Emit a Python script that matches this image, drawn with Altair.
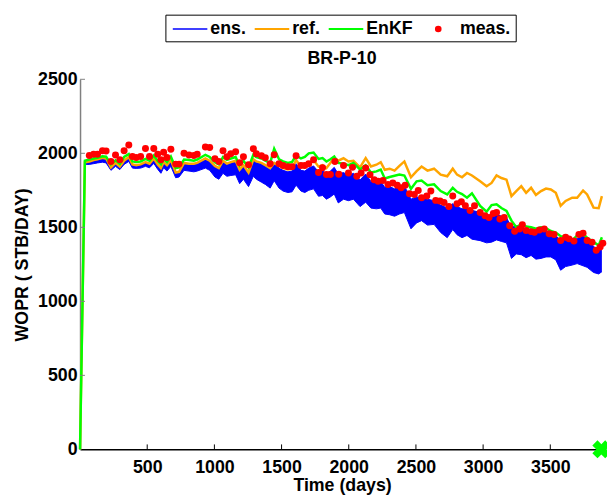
import altair as alt
import pandas as pd

# ---------------- data ----------------
ref_day = [0, 36, 69, 101, 130, 167, 194, 230, 264, 296, 328, 363, 390, 418, 451, 487, 517, 549, 578, 602,
           622, 647, 676, 712, 737, 774, 811, 847, 872, 933, 965, 1004, 1033, 1064, 1093, 1122, 1158, 1188,
           1216, 1254, 1290, 1312, 1350, 1379, 1415, 1445, 1481, 1511, 1547, 1578, 1608, 1644, 1673, 1702,
           1738, 1775, 1805, 1834, 1863, 1892, 1922, 1961, 1998, 2035, 2084, 2126, 2165, 2206, 2238, 2268,
           2304, 2341, 2377, 2414, 2463, 2505, 2542, 2586, 2635, 2684, 2733, 2774, 2806, 2843, 2880, 2917,
           2978, 3026, 3063, 3100, 3136, 3174, 3211, 3247, 3284, 3320, 3357, 3393, 3431, 3468, 3504, 3541,
           3577, 3614, 3663, 3700, 3744, 3774, 3822, 3860, 3884]

ref_val = [0, 1940, 1945, 1955, 1960, 1970, 1965, 1905, 1935, 1910, 1950, 1975, 1925, 1920, 1925, 1940, 1930,
           1965, 1925, 1900, 1940, 1920, 1955, 1870, 1875, 1935, 1930, 1930, 1935, 1965, 1950, 1915, 1900,
           1950, 1930, 1940, 1950, 1890, 1920, 1870, 1960, 1945, 1935, 1920, 1900, 1935, 1915, 1900, 1890,
           1895, 1955, 1910, 1905, 1930, 1955, 1910, 1920, 1900, 1935, 1970, 1950, 1967, 1945, 1949, 1905,
           1967, 1911, 1923, 1940, 1889, 1896, 1883, 1915, 1945, 1838, 1880, 1911, 1883, 1896, 1856, 1845,
           1896, 1856, 1838, 1867, 1850, 1811, 1778, 1800, 1851, 1833, 1822, 1711, 1745, 1778, 1733, 1767,
           1718, 1745, 1762, 1756, 1733, 1645, 1678, 1700, 1700, 1749, 1722, 1633, 1629, 1711]

enkf_val = [0, 1950, 1958, 1965, 1970, 1980, 1978, 1925, 1952, 1928, 1975, 1995, 1945, 1942, 1945, 1962, 1950,
            1985, 1948, 1925, 1962, 1940, 1978, 1900, 1905, 1958, 1955, 1950, 1958, 1990, 1975, 1940, 1925,
            1975, 1955, 1965, 1975, 1918, 1950, 1905, 1990, 1975, 1965, 1950, 1935, 2030, 1960, 1945, 1935,
            1942, 1985, 1965, 1975, 2000, 2005, 1962, 1968, 1945, 1960, 1978, 1935, 1930, 1920, 1935, 1890,
            1920, 1870, 1878, 1890, 1830, 1840, 1848, 1856, 1850, 1760, 1811, 1816, 1785, 1790, 1745, 1722,
            1767, 1740, 1725, 1700, 1730, 1645, 1605, 1650, 1656, 1630, 1611, 1545, 1500, 1522, 1505, 1500,
            1490, 1500, 1495, 1475, 1465, 1440, 1433, 1411, 1445, 1456, 1430, 1400, 1378, 1433]

ens_lo = [0, 1925, 1925, 1930, 1935, 1940, 1935, 1885, 1912, 1890, 1925, 1945, 1900, 1898, 1900, 1912, 1902,
          1932, 1892, 1865, 1902, 1880, 1912, 1835, 1840, 1885, 1880, 1875, 1880, 1900, 1885, 1840, 1825,
          1865, 1845, 1850, 1855, 1795, 1825, 1775, 1845, 1825, 1805, 1790, 1765, 1815, 1765, 1745, 1735,
          1740, 1785, 1745, 1735, 1750, 1760, 1710, 1715, 1690, 1705, 1725, 1665, 1690, 1680, 1690, 1640,
          1670, 1630, 1625, 1630, 1590, 1585, 1575, 1590, 1600, 1490, 1530, 1545, 1515, 1520, 1465, 1430,
          1485, 1450, 1430, 1445, 1420, 1410, 1395, 1400, 1415, 1405, 1395, 1290, 1320, 1315, 1295, 1310,
          1285, 1290, 1300, 1300, 1280, 1210, 1235, 1245, 1255, 1240, 1230, 1195, 1185, 1200]

ens_hi = [0, 1945, 1945, 1950, 1955, 1962, 1958, 1902, 1932, 1910, 1947, 1968, 1922, 1918, 1922, 1938, 1928,
          1962, 1922, 1897, 1937, 1917, 1952, 1867, 1872, 1930, 1925, 1925, 1930, 1960, 1945, 1910, 1895,
          1945, 1925, 1935, 1945, 1880, 1915, 1865, 1955, 1940, 1930, 1915, 1890, 1940, 1900, 1885, 1875,
          1880, 1930, 1885, 1880, 1900, 1915, 1875, 1885, 1860, 1880, 1905, 1860, 1870, 1850, 1865, 1820,
          1860, 1810, 1800, 1810, 1770, 1775, 1760, 1775, 1780, 1690, 1705, 1700, 1690, 1680, 1650, 1630,
          1660, 1640, 1625, 1630, 1615, 1600, 1570, 1585, 1590, 1575, 1565, 1500, 1510, 1505, 1480, 1490,
          1460, 1470, 1475, 1460, 1445, 1405, 1420, 1410, 1425, 1440, 1425, 1370, 1350, 1390]

meas_day = [69, 101, 130, 167, 194, 230, 264, 296, 328, 363, 390, 418, 451, 487, 517, 549, 578, 602, 622, 647,
            676, 712, 737, 774, 811, 847, 872, 933, 965, 1004, 1033, 1064, 1093, 1122, 1158, 1188, 1216, 1254,
            1290, 1312, 1350, 1379, 1415, 1445, 1481, 1511, 1547, 1578, 1608, 1644, 1673, 1702, 1738, 1775,
            1805, 1834, 1863, 1897, 1926, 1961, 1998, 2028, 2060, 2092, 2126, 2158, 2189, 2218, 2255, 2292,
            2328, 2361, 2390, 2420, 2452, 2488, 2517, 2542, 2581, 2611, 2647, 2679, 2709, 2745, 2774, 2806,
            2838, 2868, 2903, 2936, 2978, 3014, 3044, 3076, 3100, 3125, 3157, 3198, 3235, 3271, 3292, 3320,
            3357, 3382, 3419, 3455, 3492, 3528, 3577, 3614, 3639, 3676, 3713, 3744, 3774, 3811, 3842, 3871,
            3891]

meas_val = [1985, 1993, 1993, 2018, 2016, 1945, 1989, 1956, 2018, 2056, 1978, 1971, 1978, 2033, 1978, 2033,
            1993, 1956, 2007, 1971, 2027, 1927, 1927, 2000, 1989, 1985, 1993, 2043, 2040, 1963, 1945, 2017,
            1977, 1997, 2011, 1937, 1977, 1922, 2031, 1997, 1983, 1970, 1930, 1990, 1930, 1917, 1910, 1910,
            1983, 1917, 1917, 1930, 1957, 1870, 1903, 1857, 1857, 1945, 1858, 1918, 1867, 1905, 1845, 1867,
            1900, 1856, 1822, 1811, 1816, 1789, 1800, 1785, 1767, 1785, 1727, 1722, 1749, 1700, 1711, 1745,
            1682, 1678, 1667, 1640, 1711, 1660, 1673, 1645, 1613, 1645, 1600, 1578, 1567, 1593, 1600, 1556,
            1567, 1511, 1473, 1489, 1518, 1478, 1471, 1467, 1482, 1489, 1456, 1451, 1411, 1433, 1422, 1407,
            1451, 1460, 1411, 1400, 1345, 1367, 1393]

end_day = [3880]
end_val = [0]

x_ticks = [500, 1000, 1500, 2000, 2500, 3000, 3500]
y_ticks = [0, 500, 1000, 1500, 2000, 2500]

series_names = ["ens.", "ref.", "EnKF", "meas."]
series_colors = ["#0000ff", "#ffa500", "#00ff00", "#ff0000"]
title_text = "BR-P-10"

FONT = "Liberation Sans"
W, H = 531, 375

# ---------------- tables ----------------
n = len(ref_day)
band_df = pd.DataFrame({"day": ref_day, "lo": ens_lo, "hi": ens_hi})
ens_df = pd.DataFrame({"day": ref_day + ref_day, "value": ens_lo + ens_hi,
                       "edge": ["lo"] * n + ["hi"] * n, "series": ["ens."] * (2 * n)})
ref_df = pd.DataFrame({"day": ref_day, "value": ref_val, "series": ["ref."] * n})
enkf_df = pd.DataFrame({"day": ref_day, "value": enkf_val, "series": ["EnKF"] * n})
meas_df = pd.DataFrame({"day": meas_day, "value": meas_val, "series": ["meas."] * len(meas_day)})
end_df = pd.DataFrame({"day": end_day, "value": end_val})
xt_df = pd.DataFrame({"day": x_ticks})
yt_df = pd.DataFrame({"value": y_ticks[1:]})
one = pd.DataFrame({"k": [0]})

# ---------------- scales / axes ----------------
xscale = alt.Scale(domain=[0, 3900], nice=False, zero=False)
yscale = alt.Scale(domain=[0, 2500], nice=False)

xaxis = alt.Axis(values=x_ticks, format="d", ticks=False, grid=False, domainColor="black", domainWidth=1.5,
                 labelFont=FONT, labelFontSize=18, labelFontWeight="bold", labelColor="black",
                 labelPadding=9, labelFlush=False, labelOverlap=False,
                 title="Time (days)", titleFont=FONT, titleFontSize=18, titleFontWeight="bold",
                 titleColor="black", titleBaseline="alphabetic", titleY=42)
yaxis = alt.Axis(values=y_ticks, format="d", ticks=False, grid=False, domainColor="#808080", domainWidth=1.5,
                 labelFont=FONT, labelFontSize=18, labelFontWeight="bold", labelColor="black",
                 labelPadding=3, labelFlush=False, labelOverlap=False,
                 title="WOPR ( STB/DAY)", titleFont=FONT, titleFontSize=18, titleFontWeight="bold",
                 titleColor="black", titleBaseline="alphabetic", titleAngle=270, titleX=-53)

color = alt.Color("series:N", scale=alt.Scale(domain=series_names, range=series_colors), legend=None)

X = alt.X("day:Q", scale=xscale, axis=xaxis)
Y = alt.Y("value:Q", scale=yscale, axis=yaxis)

band = alt.Chart(band_df).mark_area(color=series_colors[0], opacity=1).encode(
    x=X, y=alt.Y("lo:Q", scale=yscale, axis=yaxis), y2="hi:Q")
ens_lines = alt.Chart(ens_df).mark_line(strokeWidth=1).encode(x=X, y=Y, color=color, detail="edge:N")
ref_line = alt.Chart(ref_df).mark_line(strokeWidth=2.5).encode(x=X, y=Y, color=color)
enkf_line = alt.Chart(enkf_df).mark_line(strokeWidth=2.5).encode(x=X, y=Y, color=color)
meas_pts = alt.Chart(meas_df).mark_circle(size=50, opacity=1).encode(x=X, y=Y, color=color)
end_pt = alt.Chart(end_df).mark_point(shape="cross", angle=45, filled=True, size=340,
                                      color=series_colors[2], opacity=1).encode(x=X, y=Y)
xticks = alt.Chart(xt_df).mark_rule(color="black", strokeWidth=1).encode(
    x=X, y=alt.value(H), y2=alt.value(H - 5))
yticks = alt.Chart(yt_df).mark_rule(color="#808080", strokeWidth=1).encode(
    y=Y, x=alt.value(0), x2=alt.value(5))

# ---------------- title and legend (decoration, outside the plot area) ----------------
title = alt.Chart(one).mark_text(text=title_text, font=FONT, fontSize=18, fontWeight="bold",
                                 color="black", align="center", baseline="alphabetic").encode(
    x=alt.value(W / 2), y=alt.value(-15))

LEG_Y = -51
LEG_BASE = -46
leg_box = alt.Chart(one).mark_rect(fill="white", stroke="black", strokeWidth=1).encode(
    x=alt.value(87), x2=alt.value(442), y=alt.value(-65), y2=alt.value(-38))

leg_layers = [leg_box]
line_starts = [94, 177, 252]
line_widths = [1.5, 2, 2]
for i in range(3):
    x0 = line_starts[i]
    leg_layers.append(alt.Chart(one).mark_rule(color=series_colors[i], strokeWidth=line_widths[i]).encode(
        x=alt.value(x0), x2=alt.value(x0 + 35), y=alt.value(LEG_Y)))
    leg_layers.append(alt.Chart(one).mark_text(text=series_names[i], font=FONT, fontSize=18,
                                               fontWeight="bold", color="black", align="left",
                                               baseline="alphabetic").encode(
        x=alt.value(x0 + 38), y=alt.value(LEG_BASE)))
leg_layers.append(alt.Chart(one).mark_circle(color=series_colors[3], size=45, opacity=1).encode(
    x=alt.value(363), y=alt.value(LEG_Y)))
leg_layers.append(alt.Chart(one).mark_text(text=series_names[3], font=FONT, fontSize=18, fontWeight="bold",
                                           color="black", align="left", baseline="alphabetic").encode(
    x=alt.value(385), y=alt.value(LEG_BASE)))

chart = alt.layer(band, ens_lines, ref_line, enkf_line, meas_pts, end_pt, xticks, yticks,
                  title, *leg_layers).properties(
    width=W, height=H,
    padding={"left": 73, "top": 69, "right": 3, "bottom": 43},
    autosize=alt.AutoSizeParams(type="none"),
    background="white",
).configure_view(stroke=None)

chart.save("out.html", embed_options={"renderer": "svg", "actions": False})
